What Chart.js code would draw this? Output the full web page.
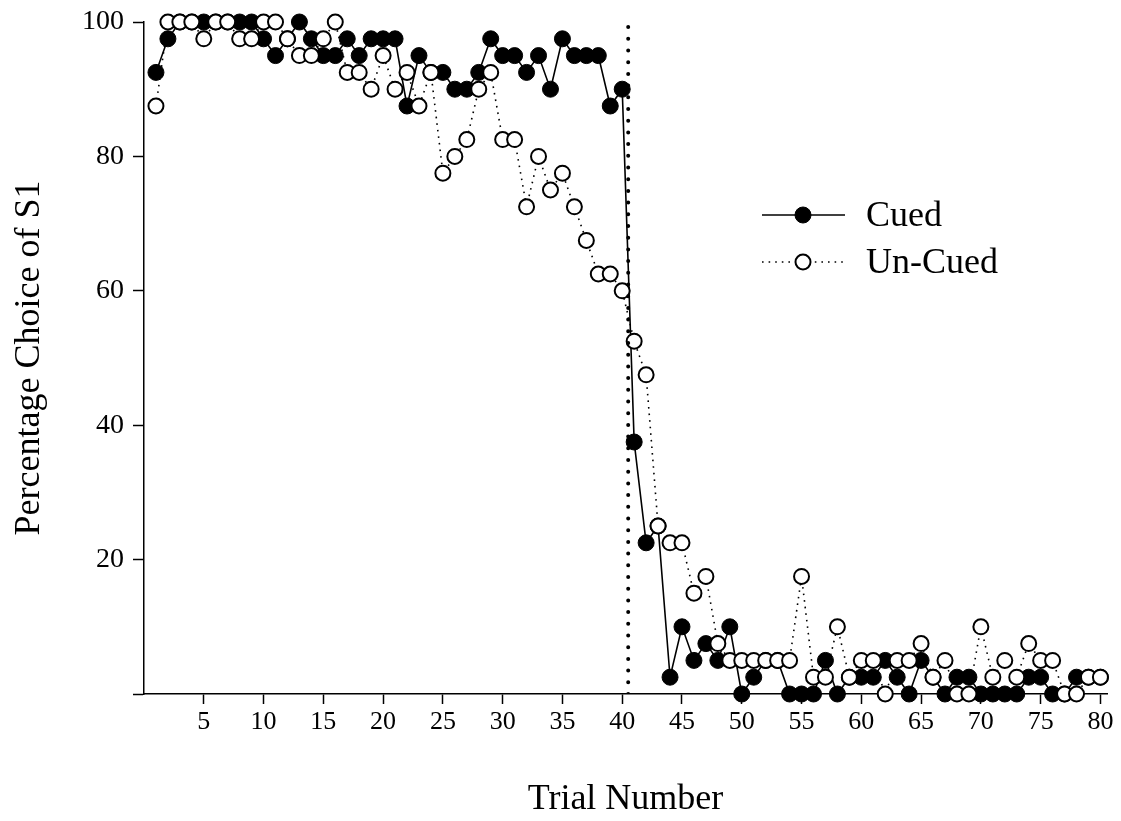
<!DOCTYPE html>
<html>
<head>
<meta charset="utf-8">
<script src="https://cdn.jsdelivr.net/npm/chart.js@4.4.1/dist/chart.umd.min.js"></script>
<style>
  html, body { margin: 0; padding: 0; background: #fff; }
  #wrap { width: 1121px; height: 821px; position: relative; }
</style>
</head>
<body>
<div id="wrap"><canvas id="chart" width="1121" height="821"></canvas></div>
<script>
// ── DATA ──
const TRIALS = [
   1, 2, 3, 4, 5, 6, 7, 8, 9,10,11,12,13,14,15,16,17,18,19,20,
  21,22,23,24,25,26,27,28,29,30,31,32,33,34,35,36,37,38,39,40,
  41,42,43,44,45,46,47,48,49,50,51,52,53,54,55,56,57,58,59,60,
  61,62,63,64,65,66,67,68,69,70,71,72,73,74,75,76,77,78,79,80
];
const CUED = [
  92.5, 97.5, 100, 100, 100, 100, 100, 100, 100, 97.5,
  95, 97.5, 100, 97.5, 95, 95, 97.5, 95, 97.5, 97.5,
  97.5, 87.5, 95, 92.5, 92.5, 90, 90, 92.5, 97.5, 95,
  95, 92.5, 95, 90, 97.5, 95, 95, 95, 87.5, 90,
  37.5, 22.5, 25, 2.5, 10, 5, 7.5, 5, 10, 0,
  2.5, 5, 5, 0, 0, 0, 5, 0, 2.5, 2.5,
  2.5, 5, 2.5, 0, 5, 2.5, 0, 2.5, 2.5, 0,
  0, 0, 0, 2.5, 2.5, 0, 0, 2.5, 2.5, 2.5
];
const UNCUED = [
  87.5, 100, 100, 100, 97.5, 100, 100, 97.5, 97.5, 100,
  100, 97.5, 95, 95, 97.5, 100, 92.5, 92.5, 90, 95,
  90, 92.5, 87.5, 92.5, 77.5, 80, 82.5, 90, 92.5, 82.5,
  82.5, 72.5, 80, 75, 77.5, 72.5, 67.5, 62.5, 62.5, 60,
  52.5, 47.5, 25, 22.5, 22.5, 15, 17.5, 7.5, 5, 5,
  5, 5, 5, 5, 17.5, 2.5, 2.5, 10, 2.5, 5,
  5, 0, 5, 5, 7.5, 2.5, 5, 0, 0, 10,
  2.5, 5, 2.5, 7.5, 5, 5, 0, 0, 2.5, 2.5
];
const X_TICKS = [5, 10, 15, 20, 25, 30, 35, 40, 45, 50, 55, 60, 65, 70, 75, 80];
const Y_TICKS = [0, 20, 40, 60, 80, 100];
const SWITCH_AT = 40.5;          // reversal between trial 40 and 41
const SERIES_NAMES = ['Cued', 'Un-Cued'];

const FONT = "'Liberation Serif', 'Times New Roman', serif";

const toPts = vals => vals.map((v, i) => ({ x: TRIALS[i], y: v }));

// ── LEGEND (line + marker + label, inside the plot) ──
const legendInPlot = {
  id: 'legendInPlot',
  afterDraw(chart) {
    const { ctx } = chart;
    const rows = [
      { y: 215, ds: chart.data.datasets[1] },
      { y: 262, ds: chart.data.datasets[0] }
    ];
    ctx.save();
    rows.forEach(r => {
      const ds = r.ds;
      ctx.strokeStyle = '#000';
      ctx.lineWidth = ds.borderWidth;
      ctx.setLineDash(ds.borderDash || []);
      ctx.lineCap = ds.borderCapStyle || 'butt';
      ctx.beginPath();
      ctx.moveTo(762, r.y);
      ctx.lineTo(845, r.y);
      ctx.stroke();
      ctx.setLineDash([]);
      ctx.beginPath();
      ctx.arc(803, r.y, ds.pointRadius, 0, Math.PI * 2);
      ctx.fillStyle = ds.pointBackgroundColor;
      ctx.fill();
      ctx.lineWidth = ds.pointBorderWidth;
      ctx.strokeStyle = ds.pointBorderColor;
      ctx.stroke();
      ctx.fillStyle = '#000';
      ctx.font = '36px ' + FONT;
      ctx.textBaseline = 'middle';
      ctx.textAlign = 'left';
      ctx.fillText(ds.label, 866, r.y + 2);
    });
    ctx.restore();
  }
};

// ── CHART ──
new Chart(document.getElementById('chart'), {
  type: 'line',
  data: {
    datasets: [
      {
        label: SERIES_NAMES[1],
        data: toPts(UNCUED),
        order: 1,
        clip: false,
        borderColor: '#000',
        borderWidth: 1.6,
        borderDash: [1.6, 5],
        borderCapStyle: 'butt',
        pointRadius: 7.5,
        pointBorderWidth: 2,
        pointBackgroundColor: '#fff',
        pointBorderColor: '#000',
        tension: 0
      },
      {
        label: SERIES_NAMES[0],
        data: toPts(CUED),
        order: 2,
        clip: false,
        borderColor: '#000',
        borderWidth: 1.6,
        pointRadius: 8,
        pointBorderWidth: 1,
        pointBackgroundColor: '#000',
        pointBorderColor: '#000',
        tension: 0
      },
      {
        label: 'switch',
        data: [{ x: SWITCH_AT, y: 0 }, { x: SWITCH_AT, y: 100 }],
        order: 0,
        borderColor: '#000',
        borderWidth: 4,
        borderDash: [0, 11.7],
        borderCapStyle: 'round',
        pointRadius: 0
      }
    ]
  },
  options: {
    responsive: false,
    animation: false,
    devicePixelRatio: 1,
    layout: { padding: { left: 6, right: 14, top: 22, bottom: 0 } },
    plugins: {
      legend: { display: false },
      tooltip: { enabled: false }
    },
    scales: {
      x: {
        type: 'linear',
        min: 0,
        max: 80.55,
        afterBuildTicks: s => { s.ticks = X_TICKS.map(v => ({ value: v })); },
        afterFit: s => { s.height = 127; s.paddingLeft = 0; s.paddingRight = 0; },
        border: { display: true, color: '#000', width: 1.5 },
        grid: { drawOnChartArea: false, drawTicks: true, tickLength: 10, tickWidth: 1.5, tickColor: '#000' },
        ticks: { color: '#000', font: { family: FONT, size: 26 }, padding: 3, maxRotation: 0, autoSkip: false },
        title: { display: true, text: 'Trial Number', color: '#000', font: { family: FONT, size: 36 }, padding: { top: 30, bottom: 0 } }
      },
      y: {
        min: 0,
        max: 100,
        afterBuildTicks: s => { s.ticks = Y_TICKS.map(v => ({ value: v })); },
        afterFit: s => { s.width = 138; s.paddingTop = 0; s.paddingBottom = 0; },
        border: { display: true, color: '#000', width: 1.5 },
        grid: { drawOnChartArea: false, drawTicks: true, tickLength: 11, tickWidth: 1.5, tickColor: '#000' },
        ticks: { color: '#000', font: { family: FONT, size: 28 }, padding: 9, callback: v => (v === 0 ? '' : v) },
        title: { display: true, text: 'Percentage Choice of S1', color: '#000', font: { family: FONT, size: 36 }, padding: { top: 2, bottom: 0 } }
      }
    }
  },
  plugins: [legendInPlot]
});
</script>
</body>
</html>
